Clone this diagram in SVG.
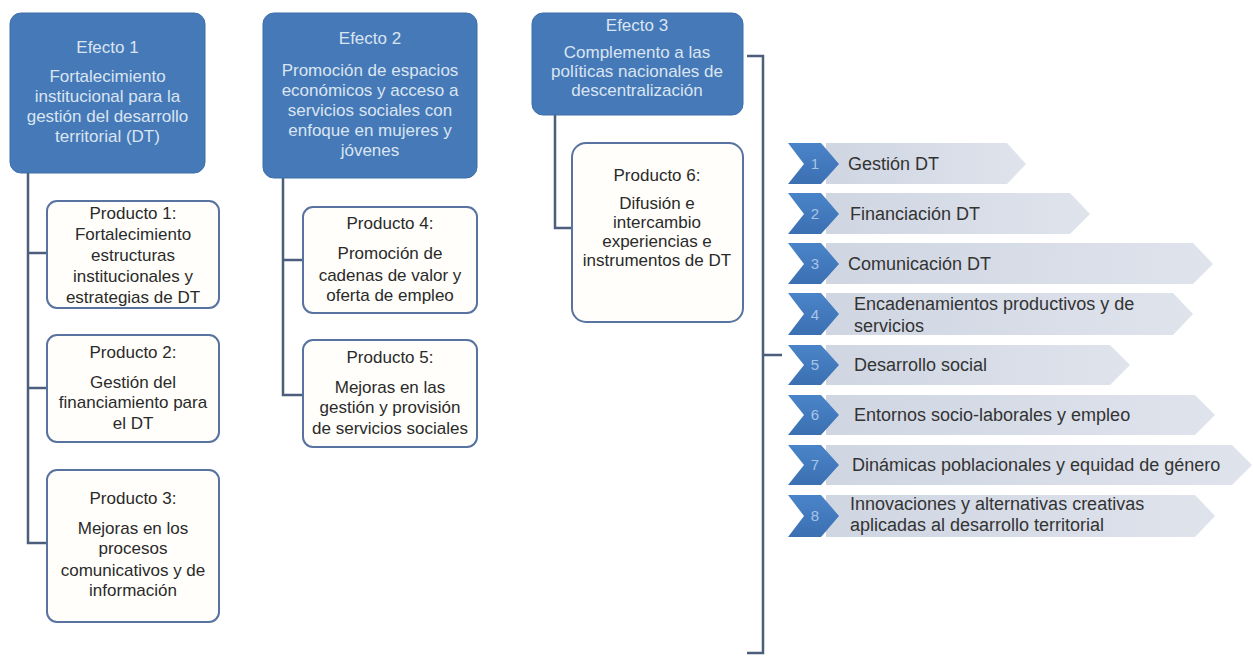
<svg xmlns="http://www.w3.org/2000/svg" width="1253" height="656" viewBox="0 0 1253 656">
<defs>
<linearGradient id="gGrey" x1="0" y1="0" x2="1" y2="0">
<stop offset="0" stop-color="#cfd6e2"/>
<stop offset="1" stop-color="#dfe3ec"/>
</linearGradient>
<linearGradient id="gBlue" x1="0" y1="0" x2="0" y2="1">
<stop offset="0" stop-color="#4a84c8"/>
<stop offset="1" stop-color="#3b70b2"/>
</linearGradient>
</defs>
<style>
.eff rect{fill:#4579b8;stroke:#3f6ea8;stroke-width:1}
.eff text{fill:#dbe5f1;font-family:"Liberation Sans",Arial,sans-serif;font-size:17px;text-anchor:middle}
.prod rect{fill:#fffefa;stroke:#5873a0;stroke-width:2}
.prod text{fill:#2a2a2a;font-family:"Liberation Sans",Arial,sans-serif;font-size:17px;text-anchor:middle}
.conn path{fill:none;stroke:#4d5d7c;stroke-width:2.5}
.chev .g{fill:url(#gGrey)}
.chev .b{fill:url(#gBlue)}
.chev .n{fill:#a8c5e8;font-family:"Liberation Sans",Arial,sans-serif;font-size:15px;text-anchor:middle}
.chev .t{fill:#333333;font-family:"Liberation Sans",Arial,sans-serif;font-size:18px}
</style>

<g id="connectors" class="conn">
<path d="M28,173 V543 H47 M28,253 H47 M28,388 H47"/>
<path d="M283,178 V395 H303 M283,260 H303"/>
<path d="M555,115 V228 H572"/>
<path d="M747,56 H763 V653 H747 M763,355 H782"/>
</g>

<g id="efecto1" class="eff">
<rect x="10" y="13" width="195" height="160" rx="11"/>
<text x="107.5" y="53">Efecto 1</text>
<text x="107.5" y="82">Fortalecimiento</text>
<text x="107.5" y="102">institucional para la</text>
<text x="107.5" y="122">gestión del desarrollo</text>
<text x="107.5" y="142">territorial (DT)</text>
</g>

<g id="efecto2" class="eff">
<rect x="263" y="13" width="214" height="165" rx="11"/>
<text x="370" y="44">Efecto 2</text>
<text x="370" y="76">Promoción de espacios</text>
<text x="370" y="96">económicos y acceso a</text>
<text x="370" y="116">servicios sociales con</text>
<text x="370" y="136">enfoque en mujeres y</text>
<text x="370" y="156">jóvenes</text>
</g>

<g id="efecto3" class="eff">
<rect x="532" y="13" width="211" height="102" rx="11"/>
<text x="637" y="31">Efecto 3</text>
<text x="637" y="58">Complemento a las</text>
<text x="637" y="77">políticas nacionales de</text>
<text x="637" y="96">descentralización</text>
</g>

<g id="producto1" class="prod">
<rect x="47" y="201" width="172" height="107" rx="10"/>
<text x="133" y="219">Producto 1:</text>
<text x="133" y="240">Fortalecimiento</text>
<text x="133" y="261">estructuras</text>
<text x="133" y="282">institucionales y</text>
<text x="133" y="303">estrategias de DT</text>
</g>

<g id="producto2" class="prod">
<rect x="47" y="335" width="172" height="107" rx="10"/>
<text x="133" y="358">Producto 2:</text>
<text x="133" y="388">Gestión del</text>
<text x="133" y="408">financiamiento para</text>
<text x="133" y="429">el DT</text>
</g>

<g id="producto3" class="prod">
<rect x="47" y="470" width="172" height="152" rx="10"/>
<text x="133" y="504">Producto 3:</text>
<text x="133" y="534">Mejoras en los</text>
<text x="133" y="554">procesos</text>
<text x="133" y="576">comunicativos y de</text>
<text x="133" y="596">información</text>
</g>

<g id="producto4" class="prod">
<rect x="303" y="207" width="174" height="106" rx="10"/>
<text x="390" y="229">Producto 4:</text>
<text x="390" y="259">Promoción de</text>
<text x="390" y="281">cadenas de valor y</text>
<text x="390" y="301">oferta de empleo</text>
</g>

<g id="producto5" class="prod">
<rect x="303" y="340" width="174" height="107" rx="10"/>
<text x="390" y="363">Producto 5:</text>
<text x="390" y="393">Mejoras en las</text>
<text x="390" y="413">gestión y provisión</text>
<text x="390" y="434">de servicios sociales</text>
</g>

<g id="producto6" class="prod">
<rect x="572" y="143" width="171" height="179" rx="14"/>
<text x="657" y="181">Producto 6:</text>
<text x="657" y="209">Difusión e</text>
<text x="657" y="228">intercambio</text>
<text x="657" y="247">experiencias e</text>
<text x="657" y="266">instrumentos de DT</text>
</g>

<g id="item1" class="chev">
<polygon class="g" points="826,143 1007,143 1026,164 1007,184 826,184"/>
<polygon class="b" points="788,143 821,143 839,164 821,184 788,184 804,164"/>
<text class="n" x="815" y="169">1</text>
<text class="t" x="848" y="170">Gestión DT</text>
</g>
<g id="item2" class="chev">
<polygon class="g" points="826,193 1070,193 1090,214 1070,234 826,234"/>
<polygon class="b" points="788,193 821,193 839,214 821,234 788,234 804,214"/>
<text class="n" x="815" y="219">2</text>
<text class="t" x="850" y="220">Financiación DT</text>
</g>
<g id="item3" class="chev">
<polygon class="g" points="826,243 1193,243 1213,264 1193,284 826,284"/>
<polygon class="b" points="788,243 821,243 839,264 821,284 788,284 804,264"/>
<text class="n" x="815" y="269">3</text>
<text class="t" x="848" y="270">Comunicación DT</text>
</g>
<g id="item4" class="chev">
<polygon class="g" points="826,293 1173,293 1193,314 1173,335 826,335"/>
<polygon class="b" points="788,293 821,293 839,314 821,335 788,335 804,314"/>
<text class="n" x="815" y="320">4</text>
<text class="t" x="854" y="310">Encadenamientos productivos y de</text>
<text class="t" x="854" y="332">servicios</text>
</g>
<g id="item5" class="chev">
<polygon class="g" points="826,345 1110,345 1130,365 1110,385 826,385"/>
<polygon class="b" points="788,345 821,345 839,365 821,385 788,385 804,365"/>
<text class="n" x="815" y="370">5</text>
<text class="t" x="854" y="371">Desarrollo social</text>
</g>
<g id="item6" class="chev">
<polygon class="g" points="826,395 1195,395 1215,415 1195,435 826,435"/>
<polygon class="b" points="788,395 821,395 839,415 821,435 788,435 804,415"/>
<text class="n" x="815" y="420">6</text>
<text class="t" x="854" y="421">Entornos socio-laborales y empleo</text>
</g>
<g id="item7" class="chev">
<polygon class="g" points="826,445 1232,445 1252,465 1232,485 826,485"/>
<polygon class="b" points="788,445 821,445 839,465 821,485 788,485 804,465"/>
<text class="n" x="815" y="470">7</text>
<text class="t" x="852" y="471">Dinámicas poblacionales y equidad de género</text>
</g>
<g id="item8" class="chev">
<polygon class="g" points="826,495 1195,495 1215,516 1195,537 826,537"/>
<polygon class="b" points="788,495 821,495 839,516 821,537 788,537 804,516"/>
<text class="n" x="815" y="521">8</text>
<text class="t" x="850" y="510">Innovaciones y alternativas creativas</text>
<text class="t" x="850" y="531">aplicadas al desarrollo territorial</text>
</g>
</svg>
